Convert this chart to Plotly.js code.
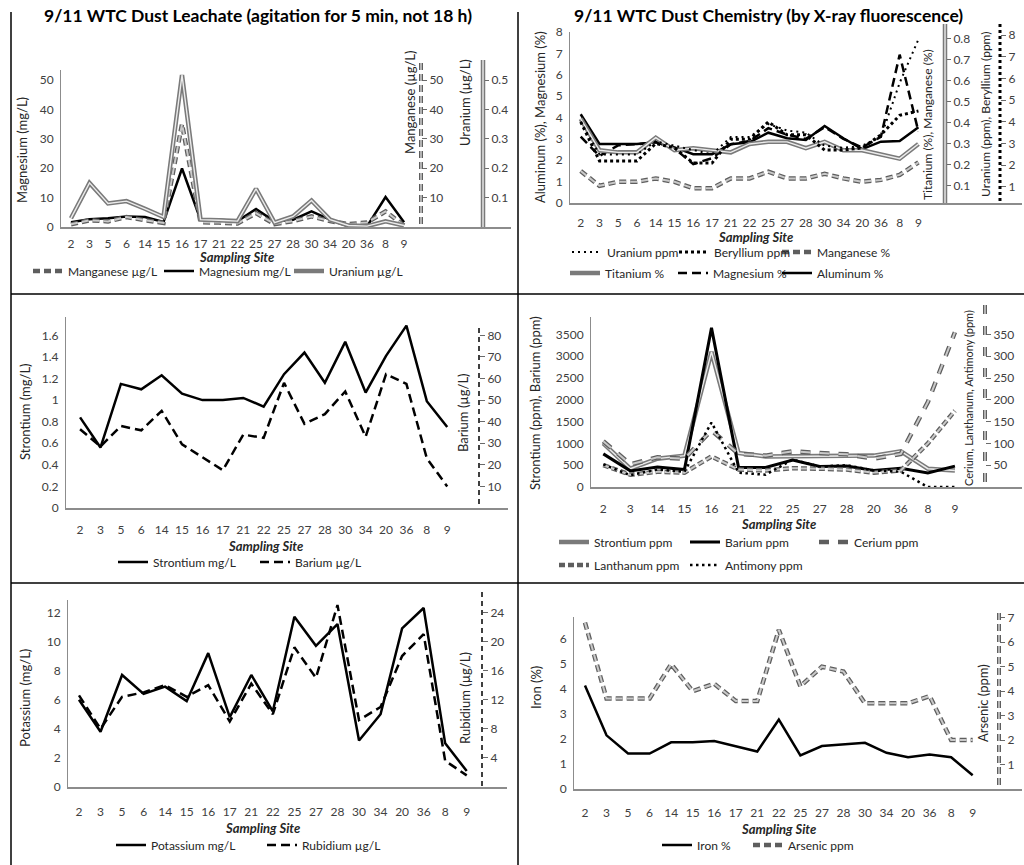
<!DOCTYPE html>
<html><head><meta charset="utf-8">
<script src="https://cdn.plot.ly/plotly-3.0.1.min.js"></script>
<style>html,body{margin:0;padding:0;background:#fff}#chart{width:1024px;height:865px}</style>
</head><body><div id="chart"></div>
<script>
// ---------- DATA ----------
const sitesA = ['2','3','5','6','14','15','16','17','21','22','25','27','28','30','34','20','36','8','9'];
const sitesB = ['2','3','14','15','16','21','22','25','27','28','20','36','8','9'];

// Leachate (top-left)
const leachManganese = [0.9,2.3,1.9,3.4,2.3,1.4,35,1.6,1.5,1.2,4.7,1.0,2.0,3.6,2.0,1.0,1.5,5.3,0.5];
const leachMagnesium = [1.6,2.6,3.0,3.6,3.4,1.7,19.9,2.5,2.5,2.0,6.1,1.9,2.5,5.3,2.5,0.2,0.2,10.2,1.6];
const leachUranium = [0.03,0.15,0.08,0.088,0.062,0.034,0.517,0.025,0.023,0.02,0.13,0.015,0.036,0.09,0.025,0.005,0.003,0.019,0.005];

// XRF (top-right)
const xrfAluminum = [4.15,2.76,2.76,2.76,2.84,2.6,2.28,2.28,2.75,2.84,3.29,3.03,2.95,3.6,3.03,2.52,2.87,2.9,3.54];
const xrfMagnesium = [3.1,2.2,2.7,2.75,2.85,2.55,1.82,2.1,2.75,2.9,3.5,3.2,3.0,3.55,3.0,2.6,3.1,6.94,3.34];
const xrfTitanium = [0.42,0.27,0.26,0.26,0.33,0.27,0.28,0.27,0.26,0.30,0.31,0.31,0.28,0.31,0.27,0.27,0.25,0.23,0.30];
const xrfManganese = [0.171,0.101,0.12,0.12,0.136,0.12,0.089,0.089,0.136,0.136,0.168,0.136,0.136,0.158,0.136,0.12,0.129,0.153,0.212];
const xrfUranium = [4.0,2.5,2.5,2.5,3.1,2.9,2.7,2.5,3.3,3.3,3.9,3.6,3.5,2.9,2.8,2.9,3.3,5.8,7.8];
const xrfBeryllium = [4.0,2.2,2.2,2.2,3.0,2.8,2.1,2.1,3.2,3.2,4.0,3.4,3.4,2.7,2.7,2.8,3.4,4.3,4.5];

// Leachate (middle-left)
const leachStrontium = [0.84,0.56,1.15,1.1,1.23,1.06,1.0,1.0,1.02,0.94,1.24,1.44,1.16,1.54,1.07,1.41,1.69,0.99,0.75];
const leachBarium = [36.5,28.5,38,36,45,29.5,23.5,17.5,34,32.5,58,39,43.5,54,33,62,57.5,23,10];

// XRF (middle-right)
const xrfStrontium = [1000,420,650,720,3100,780,700,700,700,710,720,820,420,380];
const xrfBarium = [760,370,460,400,3650,450,450,620,470,480,380,430,320,480];
const xrfCerium = [105,52,68,65,130,76,72,82,78,75,65,76,195,355];
const xrfLanthanum = [50,28,35,33,70,40,38,43,42,40,33,38,100,175];
const xrfAntimony = [52,27,40,35,148,33,28,63,47,50,38,35,0,0];

// Leachate (bottom-left)
const leachPotassium = [6.0,3.8,7.7,6.4,6.9,5.9,9.2,4.8,7.7,5.2,11.7,9.7,11.2,3.2,5.0,10.9,12.3,3.0,1.1];
const leachRubidium = [12.6,8,12.4,13,14,12.4,14,9,14.2,10,19.2,15,25,9.2,11,18,21,3.6,1.6];

// XRF (bottom-right)
const xrfIron = [4.15,2.15,1.42,1.42,1.87,1.87,1.92,1.7,1.5,2.78,1.35,1.72,1.8,1.85,1.45,1.27,1.38,1.27,0.55];
const xrfArsenic = [6.8,3.7,3.7,3.7,5.1,4.0,4.3,3.6,3.6,6.5,4.2,5.0,4.8,3.5,3.5,3.5,3.8,2.0,2.0];

// ---------- HELPERS ----------
const W = 1024, H = 865;
const fx = p => p / W;
const fy = p => 1 - p / H;
const FONT = 'Lato, "Noto Sans", sans-serif';
const tickFont = {family: FONT, size: 12, color: '#404040'};
const legFont = {family: FONT, size: 12, color: '#262626'};

const traces = [];
const layout = {
  width: W, height: H, autosize: false,
  margin: {l: 0, r: 0, t: 0, b: 0, autoexpand: false},
  paper_bgcolor: '#fff', plot_bgcolor: 'rgba(0,0,0,0)',
  showlegend: true,
  shapes: [], annotations: []
};
let legCount = 0;

function addLegend(textStartPx, yPx) {
  legCount += 1;
  const id = legCount === 1 ? 'legend' : 'legend' + legCount;
  layout[id] = {
    x: fx(textStartPx - 40), y: fy(yPx), xanchor: 'left', yanchor: 'middle',
    orientation: 'h', bgcolor: 'rgba(0,0,0,0)', borderwidth: 0,
    font: legFont, itemwidth: 30, traceorder: 'normal'
  };
  return id;
}

function addLine(x, y, xa, ya, name, line, leg) {
  const t = {type: 'scatter', mode: 'lines', x: x, y: y, xaxis: xa, yaxis: ya,
    name: name, line: Object.assign({shape: 'linear'}, line), hoverinfo: 'skip'};
  if (leg) { t.legend = leg; t.showlegend = true; } else { t.showlegend = false; }
  traces.push(t);
}
// double line (outer + inner)
function addDouble(x, y, xa, ya, name, leg, w) {
  addLine(x, y, xa, ya, name, {color: '#7a7a7a', width: w || 4.5}, leg);
  addLine(x, y, xa, ya, name + ' inner', {color: '#ececec', width: 1.4}, null);
}
// outlined dashes (outer + inner)
function addOutlinedDash(x, y, xa, ya, name, leg, dash) {
  addLine(x, y, xa, ya, name, {color: '#5e5e5e', width: 4.5, dash: dash}, leg);
  addLine(x, y, xa, ya, name + ' inner', {color: '#c9c9c9', width: 2, dash: dash}, null);
}

function xAxis(d0, d1, anchor, cats, range, standoff) {
  return {domain: [fx(d0), fx(d1)], anchor: anchor, type: 'category', range: range,
    tickmode: 'array', tickvals: cats, ticktext: cats, ticks: '',
    showline: true, linecolor: '#8c8c8c', linewidth: 1.5, showgrid: false, zeroline: false,
    tickfont: tickFont, automargin: false, fixedrange: true, ticklabelstandoff: standoff};
}
function yAxis(top, bottom, anchor, range, tickvals) {
  return {domain: [fy(bottom), fy(top)], anchor: anchor, range: range, tickmode: 'array',
    tickvals: tickvals, ticks: '', showline: true, linecolor: '#8c8c8c', linewidth: 1,
    showgrid: false, zeroline: false, tickfont: tickFont, automargin: false, fixedrange: true,
    ticklabelstandoff: 4};
}
function yRight(over, posPx, range, tickvals, fmt) {
  return {overlaying: over, anchor: 'free', position: fx(posPx), side: 'right', range: range,
    tickmode: 'array', tickvals: tickvals, ticks: 'outside', ticklen: 5, tickcolor: '#6a6a6a',
    tickwidth: 1, showline: false, showgrid: false, zeroline: false, tickfont: tickFont,
    automargin: false, fixedrange: true, tickformat: fmt || ''};
}
function vline(xPx, y0, y1, color, width, dash) {
  layout.shapes.push({type: 'line', xref: 'paper', yref: 'paper', x0: fx(xPx), x1: fx(xPx),
    y0: fy(y0), y1: fy(y1), line: {color: color, width: width, dash: dash || 'solid'}, layer: 'above'});
}
function hline(yPx, x0, x1, color, width) {
  layout.shapes.push({type: 'line', xref: 'paper', yref: 'paper', x0: fx(x0), x1: fx(x1),
    y0: fy(yPx), y1: fy(yPx), line: {color: color, width: width}, layer: 'above'});
}
function ann(text, xPx, yPx, opts) {
  layout.annotations.push(Object.assign({text: text, xref: 'paper', yref: 'paper',
    x: fx(xPx), y: fy(yPx), showarrow: false, xanchor: 'center', yanchor: 'middle',
    font: {family: FONT, size: 13, color: '#262626'}}, opts || {}));
}
function vtitle(text, xPx, yPx, size) {
  ann(text, xPx, yPx, {textangle: -90, font: {family: FONT, size: size || 13, color: '#262626'}});
}
function siteTitle(xPx, yPx) {
  ann('<b><i>Sampling Site</i></b>', xPx, yPx, {font: {family: FONT, size: 13, color: '#262626'}});
}

// ---------- PANEL 1: leachate Mg / Mn / U ----------
layout.xaxis = xAxis(61, 511, 'y', sitesA, [-0.54, 23.78], 5);
layout.yaxis = yAxis(70, 227, 'x', [0, 53.4], [0,10,20,30,40,50]);
layout.yaxis7 = yRight('y', 421, [0, 53.4], [10,20,30,40,50]);
layout.yaxis8 = yRight('y', 483, [0, 0.534], [0.1,0.2,0.3,0.4,0.5], '.1f');
addDouble(sitesA, leachUranium, 'x', 'y8', 'Uranium µg/L', addLegend(329, 271));
addOutlinedDash(sitesA, leachManganese, 'x', 'y7', 'Manganese µg/L', addLegend(68, 271), '7px,4px');
addLine(sitesA, leachMagnesium, 'x', 'y', 'Magnesium mg/L', {color: '#000', width: 2.5}, addLegend(199, 271));
vtitle('Magnesium (mg/L)', 22, 150);
vtitle('Manganese (µg/L)', 410, 103);
vtitle('Uranium (µg/L)', 465, 103);
siteTitle(236, 257);
// right axis lines
vline(421, 63, 227, '#5e5e5e', 4, '7px,4px');
vline(421, 63, 227, '#cfcfcf', 1.5, '7px,4px');
vline(483, 60, 227, '#7a7a7a', 4.5);
vline(483, 60, 227, '#ececec', 1.4);

// ---------- PANEL 2: XRF Al / Mg / Ti / Mn / U / Be ----------
layout.xaxis2 = xAxis(570, 1022, 'y2', sitesA, [-0.57, 23.52], 8);
layout.yaxis2 = yAxis(32, 203, 'x2', [0, 8], [0,1,2,3,4,5,6,7,8]);
layout.yaxis9 = yRight('y2', 945, [0.019, 0.833], [0.1,0.2,0.3,0.4,0.5,0.6,0.7,0.8], '.1f');
layout.yaxis10 = yRight('y2', 1000, [0.26, 8.14], [1,2,3,4,5,6,7,8]);
addOutlinedDash(sitesA, xrfManganese, 'x2', 'y9', 'Manganese %', addLegend(817, 252), '7px,4px');
addDouble(sitesA, xrfTitanium, 'x2', 'y9', 'Titanium %', addLegend(605, 273));
addLine(sitesA, xrfUranium, 'x2', 'y10', 'Uranium ppm', {color: '#000', width: 2, dash: '2px,4px'}, addLegend(607, 252));
addLine(sitesA, xrfBeryllium, 'x2', 'y10', 'Beryllium ppm', {color: '#000', width: 3, dash: '3px,3px'}, addLegend(714, 252));
addLine(sitesA, xrfMagnesium, 'x2', 'y2', 'Magnesium %', {color: '#000', width: 2.5, dash: '9px,5px'}, addLegend(713, 273));
addLine(sitesA, xrfAluminum, 'x2', 'y2', 'Aluminum %', {color: '#000', width: 2.5}, addLegend(817, 273));
vtitle('Aluminum (%), Magnesium (%)', 540, 117);
vtitle('Titanium (%), Manganese (%)', 928, 125, 12);
vtitle('Uranium (ppm), Beryllium (ppm)', 986, 115, 12);
siteTitle(755, 237);
vline(945, 24, 203, '#7a7a7a', 4.5);
vline(945, 24, 203, '#ececec', 1.4);
vline(1000, 24, 203, '#000', 3, '3px,3px');

// ---------- PANEL 3: leachate Sr / Ba ----------
layout.xaxis3 = xAxis(66, 508, 'y3', sitesA, [-0.69, 20.98], 10);
layout.yaxis3 = yAxis(317, 508, 'x3', [0, 1.77], [0,0.2,0.4,0.6,0.8,1,1.2,1.4,1.6]);
layout.yaxis11 = yRight('y3', 479, [0, 88.5], [10,20,30,40,50,60,70,80]);
addLine(sitesA, leachStrontium, 'x3', 'y3', 'Strontium mg/L', {color: '#000', width: 2.5}, addLegend(153, 562));
addLine(sitesA, leachBarium, 'x3', 'y11', 'Barium µg/L', {color: '#000', width: 2.5, dash: '9px,5px'}, addLegend(295, 562));
vtitle('Strontium (mg/L)', 25, 412);
vtitle('Barium (µg/L)', 463, 413);
siteTitle(265, 546);
vline(479, 328, 508, '#000', 1.5, '5px,4px');

// ---------- PANEL 4: XRF Sr / Ba / Ce / La / Sb ----------
layout.xaxis4 = xAxis(591, 1022, 'y4', sitesB, [-0.455, 15.48], 10);
layout.yaxis4 = yAxis(317, 487, 'x4', [0, 3900], [0,500,1000,1500,2000,2500,3000,3500]);
layout.yaxis12 = yRight('y4', 985, [0, 390], [50,100,150,200,250,300,350]);
addDouble(sitesB, xrfStrontium, 'x4', 'y4', 'Strontium ppm', addLegend(594, 542));
addLine(sitesB, xrfBarium, 'x4', 'y4', 'Barium ppm', {color: '#000', width: 3}, addLegend(725, 542));
addOutlinedDash(sitesB, xrfCerium, 'x4', 'y12', 'Cerium ppm', addLegend(854, 542), '10px,9px');
addOutlinedDash(sitesB, xrfLanthanum, 'x4', 'y12', 'Lanthanum ppm', addLegend(594, 565), '6px,3px');
addLine(sitesB, xrfAntimony, 'x4', 'y12', 'Antimony ppm', {color: '#000', width: 2.5, dash: '2.5px,3.5px'}, addLegend(725, 565));
vtitle('Strontium (ppm), Barium (ppm)', 535, 403);
vtitle('Cerium, Lanthanum, Antimony (ppm)', 968, 398, 11);
siteTitle(778, 524);
vline(985, 305, 487, '#5e5e5e', 4, '9px,12px');
vline(985, 305, 487, '#cfcfcf', 1.5, '9px,12px');

// ---------- PANEL 5: leachate K / Rb ----------
layout.xaxis5 = xAxis(68, 507, 'y5', sitesA, [-0.51, 19.87], 13);
layout.yaxis5 = yAxis(600, 787, 'x5', [0, 12.85], [0,2,4,6,8,10,12]);
layout.yaxis13 = yRight('y5', 482, [0, 25.7], [4,8,12,16,20,24]);
addLine(sitesA, leachPotassium, 'x5', 'y5', 'Potassium mg/L', {color: '#000', width: 2.5}, addLegend(151, 845));
addLine(sitesA, leachRubidium, 'x5', 'y13', 'Rubidium µg/L', {color: '#000', width: 2.5, dash: '9px,5px'}, addLegend(302, 845));
vtitle('Potassium (mg/L)', 25, 698);
vtitle('Rubidium (µg/L)', 465, 698);
siteTitle(262, 828);
vline(482, 592, 787, '#000', 1.5, '5px,4px');

// ---------- PANEL 6: XRF Fe / As ----------
layout.xaxis6 = xAxis(574, 1022, 'y6', sitesA, [-0.51, 20.29], 12);
layout.yaxis6 = yAxis(617, 789, 'x6', [0, 6.89], [0,1,2,3,4,5,6]);
layout.yaxis14 = yRight('y6', 999, [0, 7.03], [1,2,3,4,5,6,7]);
addOutlinedDash(sitesA, xrfArsenic, 'x6', 'y14', 'Arsenic ppm', addLegend(788, 845), '7px,4px');
addLine(sitesA, xrfIron, 'x6', 'y6', 'Iron %', {color: '#000', width: 2.5}, addLegend(697, 845));
vtitle('Iron (%)', 536, 688);
vtitle('Arsenic (ppm)', 983, 703);
siteTitle(778, 829);
vline(999, 613, 789, '#5e5e5e', 4, '7px,4px');
vline(999, 613, 789, '#cfcfcf', 1.5, '7px,4px');

// ---------- MAIN TITLES & BORDERS ----------
ann('<b>9/11 WTC Dust Leachate (agitation for 5 min, not 18 h)</b>', 258, 16,
  {font: {family: FONT, size: 17.5, color: '#000'}});
ann('<b>9/11 WTC Dust Chemistry (by X-ray fluorescence)</b>', 768, 16,
  {font: {family: FONT, size: 17.5, color: '#000'}});
vline(11, 12, 865, '#000', 1.5);
vline(518, 12, 865, '#000', 1.5);
hline(294, 11, 1024, '#000', 1.5);
hline(583, 11, 1024, '#000', 1.5);

Plotly.newPlot('chart', traces, layout, {staticPlot: true, displayModeBar: false});
</script></body></html>
